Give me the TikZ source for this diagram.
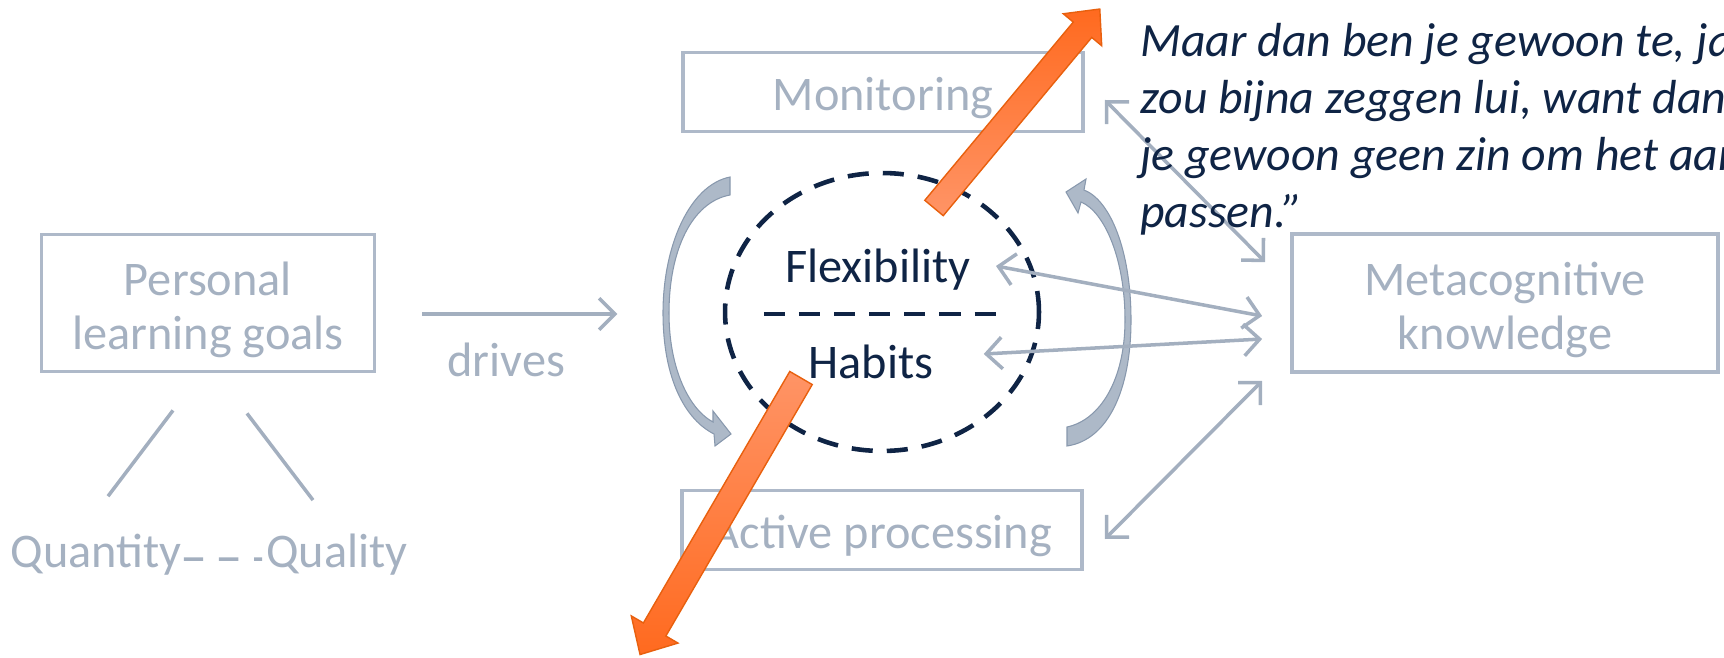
\documentclass[tikz,border=0pt]{standalone}
\usepackage{fontspec}
\setmainfont{Carlito}
\usetikzlibrary{positioning}
\usetikzlibrary{calc}
\usetikzlibrary{arrows.meta}
\usetikzlibrary{shapes.geometric}

\definecolor{boxgray}{HTML}{AEB9C9}
\definecolor{txtgray}{HTML}{A5B1C1}
\definecolor{linegray}{HTML}{A3AFBF}
\definecolor{navy}{HTML}{0F2445}
\definecolor{curvefill}{HTML}{ADB9C8}
\definecolor{curveedge}{HTML}{8898AD}
\definecolor{orangeA}{HTML}{FF6A1F}
\definecolor{orangeB}{HTML}{FF9466}
\definecolor{orangeedge}{HTML}{E8600E}

\newcommand{\bigtext}{\fontsize{27.5}{31}\selectfont}
\newcommand{\quotetext}{\fontsize{27.2}{32}\selectfont\itshape}

\begin{document}
\begin{tikzpicture}[x=0.02cm, y=-0.02cm,
        gbox/.style={draw=boxgray, line width=2.2pt, inner sep=0pt},
        glabel/.style={text=txtgray, font=\bigtext, align=center, inner sep=0pt},
        nlabel/.style={text=navy, font=\bigtext, inner sep=0pt},
        quoteline/.style={text=navy, font=\quotetext, inner sep=0pt, anchor=base west},
        graylink/.style={draw=linegray, line width=2pt},
        twoway/.style={graylink, {Straight Barb[length=9pt,width=18pt]}-{Straight Barb[length=9pt,width=18pt]}},
        oneway/.style={graylink, -{Straight Barb[length=9pt,width=18pt]}},
        navydash/.style={navy, line width=2.6pt, dash pattern=on 12pt off 8pt},
        curved/.style={fill=curvefill, draw=curveedge, line width=0.6pt},
        orangefill/.style={draw=orangeedge, line width=0.8pt}]
    \useasboundingbox (0,0) rectangle (1724,658);

    % curved arrows round the core
    \filldraw[curved] (730,177) .. controls (690,185) and (663,245) .. (663,313)
        .. controls (663,380) and (686,420) .. (714,434) -- (715,446) -- (731,434) -- (713,411) -- (713,422)
        .. controls (690,410) and (669,370) .. (669,313) .. controls (669,250) and (692,202) .. (730,195) -- cycle;
    \filldraw[curved] (1067,446) .. controls (1108,440) and (1131,390) .. (1131,320)
        .. controls (1131,250) and (1110,200) .. (1084,190) -- (1086,179) -- (1066,192) -- (1078,213) -- (1081,202)
        .. controls (1105,212) and (1125,260) .. (1125,320) .. controls (1125,380) and (1100,420) .. (1067,427) -- cycle;

    % boxes
    \node[gbox, minimum width=6.66cm, minimum height=2.74cm] (personal) at (208,303) {};
    \node[gbox, minimum width=8.52cm, minimum height=2.76cm] (meta) at (1505,303) {};
    \node[gbox, minimum width=8cm, minimum height=1.58cm] (monitor) at (883,92) {};
    \node[gbox, minimum width=8cm, minimum height=1.58cm] (active) at (882,530) {};
    \node[glabel] at ([yshift=-0.14cm]personal.center) {Personal\\learning goals};
    \node[glabel] at ([yshift=-0.14cm]meta.center) {Metacognitive\\knowledge};
    \node[glabel] at ([yshift=-0.12cm]monitor.center) {Monitoring};
    \node[glabel] at ([yshift=-0.12cm]active.center) {Active processing};

    \node[glabel, anchor=base] (quantity) at (96,567) {Quantity};
    \node[glabel, anchor=base] (quality) at (337,567) {Quality};
    \draw[graylink, line width=2pt] ([shift={(-35,37)}]personal.south) -- ([shift={(12,-37)}]quantity.north);
    \draw[graylink, line width=2pt] ([shift={(39,40)}]personal.south) -- ([shift={(-24,-33)}]quality.north);
    \draw[graylink, line width=2pt, dash pattern=on 11pt off 9pt] ([shift={(2,5)}]quantity.east) -- ([shift={(-4,5)}]quality.west);

    \draw[oneway] ([shift={(46,11)}]personal.east) -- ++(195,0)
        node[glabel, pos=0.43, below=0.54cm] (drives) {drives};

    % core
    \node[draw=navy, navydash, ellipse, minimum width=6.28cm, minimum height=5.56cm, inner sep=0pt] (core) at (882,312) {};
    \draw[navydash] ([shift={(41,2)}]core.west) -- ([shift={(-33,2)}]core.east);
    \node[nlabel] (flex) at (878,270) {Flexibility};
    \node[nlabel] (habits) at (871,362) {Habits};

    \draw[twoway] ([shift={(25,-4)}]flex.east) -- ([shift={(-28,13)}]meta.west);
    \draw[twoway] ([shift={(50,-8)}]habits.east) -- ([shift={(-28,36)}]meta.west);
    \draw[twoway] ([shift={(20,8)}]monitor.east) -- ([shift={(-25,30)}]meta.north west);
    \draw[twoway] ([shift={(-28,7)}]meta.south west) -- ([shift={(21,9)}]active.east);

    % quote
    \foreach \qline [count=\i] in {{Maar dan ben je gewoon te, ja}, {zou bijna zeggen lui, want dan},
                                   {je gewoon geen zin om het aan}, {passen.”}}
        \node[quoteline] (q\i) at (1140,{57+57*(\i-1)}) {\qline};

    % orange arrows
    \begin{scope}[shift={(934,208)}, rotate=50.2]
        \shadedraw[orangefill, top color=orangeA, bottom color=orangeB]
            (0,-12) -- (232,-12) -- (232,-25) -- (259,0) -- (232,25) -- (232,12) -- (0,12) -- cycle;
    \end{scope}
    \begin{scope}[shift={(801,378)}, rotate=-120.2]
        \shadedraw[orangefill, top color=orangeB, bottom color=orangeA]
            (0,-13) -- (291,-13) -- (291,-27) -- (320,0) -- (291,27) -- (291,13) -- (0,13) -- cycle;
    \end{scope}
\end{tikzpicture}
\end{document}
